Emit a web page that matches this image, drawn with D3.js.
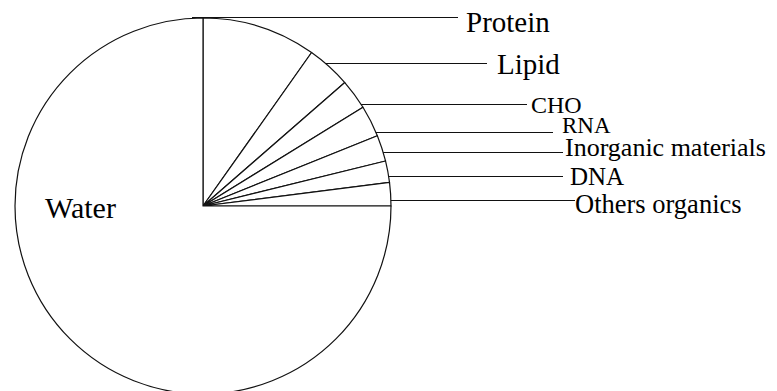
<script src="https://d3js.org/d3.v7.min.js"></script>
<style>
  body { margin: 0; background: #fff; }
</style>
<svg width="777" height="391"></svg>
<script>
    // data, clockwise from 12 o'clock
    var categories = ["Protein", "Lipid", "CHO", "RNA", "Inorganic materials", "DNA", "Others organics", "Water"],
        values = [9.8, 3.8, 2.6, 2.7, 2.25, 1.85, 2.0, 75.0];

    // label placement for the small slices (leader line y, line end x, text gap, baseline offset, font size)
    var labelLayout = [
        {lineY: 17,  lineEnd: 458, gap: 8,  dy: 15, size: 29},
        {lineY: 63,  lineEnd: 487, gap: 10, dy: 11, size: 29},
        {lineY: 104, lineEnd: 527, gap: 4,  dy: 9,  size: 24},
        {lineY: 132, lineEnd: 553, gap: 9,  dy: 1,  size: 23},
        {lineY: 152, lineEnd: 563, gap: 2,  dy: 4,  size: 26},
        {lineY: 176, lineEnd: 563, gap: 7,  dy: 9,  size: 25},
        {lineY: 200, lineEnd: 575, gap: 0,  dy: 13, size: 26.5}
    ];

    var font = "'Liberation Serif', 'DejaVu Serif', serif";

    var svg = d3.select("svg"),
        cx = 203, cy = 206, radius = 188;

    var data = categories.map(function(c, i) { return {name: c, value: values[i]}; });

    var pie = d3.pie().sort(null).value(function(d) { return d.value; }),
        arc = d3.arc().innerRadius(0).outerRadius(radius);

    var g = svg.append("g").attr("transform", "translate(" + cx + "," + cy + ")");

    g.selectAll("path")
        .data(pie(data))
        .enter().append("path")
        .attr("d", arc)
        .attr("fill", "#fff")
        .attr("stroke", "#111")
        .attr("stroke-width", 1.2)
        .attr("stroke-linejoin", "round");

    // leader lines + labels
    var small = data.slice(0, labelLayout.length);
    small.forEach(function(d, i) {
        var L = labelLayout[i],
            yy = L.lineY - cy,
            x0 = Math.abs(yy) < radius ? cx + Math.sqrt(radius * radius - yy * yy) : cx - 11;
        svg.append("line")
            .attr("x1", x0).attr("x2", L.lineEnd)
            .attr("y1", L.lineY + 0.5).attr("y2", L.lineY + 0.5)
            .attr("stroke", "#111").attr("stroke-width", 1.2);
        svg.append("text")
            .attr("x", L.lineEnd + L.gap)
            .attr("y", L.lineY + L.dy)
            .attr("font-family", font)
            .attr("font-size", L.size)
            .attr("fill", "#000")
            .text(d.name);
    });

    // big slice label sits inside the pie
    svg.append("text")
        .attr("x", cx - 158)
        .attr("y", cy + 12)
        .attr("font-family", font)
        .attr("font-size", 30)
        .attr("fill", "#000")
        .text(data[data.length - 1].name);
</script>
